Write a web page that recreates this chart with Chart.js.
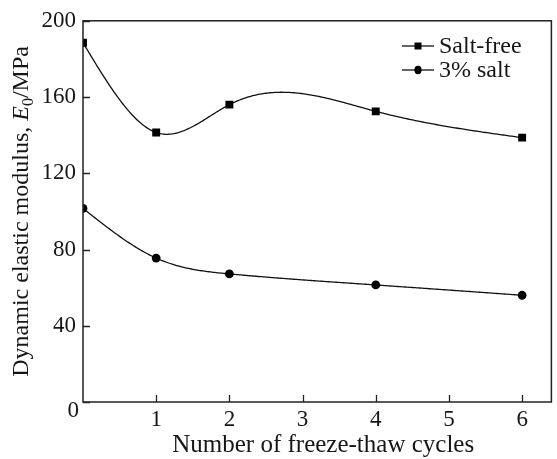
<!DOCTYPE html>
<html>
<head>
<meta charset="utf-8">
<script src="https://cdn.jsdelivr.net/npm/chart.js@4"></script>
<style>
    body { margin: 0; background: #fff; }
    canvas { display: block; }
    .preload { position: absolute; left: -999px; top: 0; font-family: "Liberation Serif"; }
</style>
</head>
<body>
<span class="preload">Salt-free 0123456789 <i>E</i></span>
<canvas id="chart" width="557" height="459"></canvas>
<script>
// Data
const cycles = [0, 1, 2, 4, 6];
const saltFree = [188.5, 141.4, 156.0, 152.5, 138.7];
const salt3 = [101.6, 75.5, 67.2, 61.4, 56.0];
const seriesNames = ["Salt-free", "3% salt"];
const xTicks = [1, 2, 3, 4, 5, 6];
const yTicks = [0, 40, 80, 120, 160, 200];
const xTitle = "Number of freeze-thaw cycles";

const FONT = "\"Liberation Serif\", \"DejaVu Serif\", serif";
const INK = "#161616";

// Natural cubic spline through the points (what the original plot uses)
function naturalSpline(xs, ys) {
    const n = xs.length;
    const h = [];
    for (let i = 0; i < n - 1; i++) h.push(xs[i + 1] - xs[i]);
    const M = new Array(n).fill(0);
    const a = [], b = [], c = [], d = [];
    for (let i = 1; i < n - 1; i++) {
        a.push(h[i - 1]);
        b.push(2 * (h[i - 1] + h[i]));
        c.push(h[i]);
        d.push(6 * ((ys[i + 1] - ys[i]) / h[i] - (ys[i] - ys[i - 1]) / h[i - 1]));
    }
    const m = b.length;
    for (let i = 1; i < m; i++) {
        const w = a[i] / b[i - 1];
        b[i] -= w * c[i - 1];
        d[i] -= w * d[i - 1];
    }
    if (m > 0) {
        M[m] = d[m - 1] / b[m - 1];
        for (let i = m - 2; i >= 0; i--) M[i + 1] = (d[i] - c[i] * M[i + 2]) / b[i];
    }
    return function (x) {
        let i = 0;
        while (i < n - 2 && x > xs[i + 1]) i++;
        const hi = h[i], A = xs[i + 1] - x, B = x - xs[i];
        return M[i] * A * A * A / (6 * hi) + M[i + 1] * B * B * B / (6 * hi)
            + (ys[i] / hi - M[i] * hi / 6) * A + (ys[i + 1] / hi - M[i + 1] * hi / 6) * B;
    };
}

const splinePlugin = {
    id: "spline",
    beforeDatasetsDraw(chart) {
        const { ctx, chartArea: ca, scales } = chart;
        ctx.save();
        ctx.beginPath();
        ctx.rect(ca.left, ca.top, ca.right - ca.left, ca.bottom - ca.top);
        ctx.clip();
        ctx.strokeStyle = "#111";
        ctx.lineWidth = 1.3;
        chart.data.datasets.forEach(ds => {
            const xs = ds.data.map(p => p.x);
            const ys = ds.data.map(p => p.y);
            const f = naturalSpline(xs, ys);
            const steps = 300;
            ctx.beginPath();
            for (let k = 0; k <= steps; k++) {
                const xv = xs[0] + (xs[xs.length - 1] - xs[0]) * k / steps;
                const px = scales.x.getPixelForValue(xv);
                const py = scales.y.getPixelForValue(f(xv));
                if (k === 0) ctx.moveTo(px, py); else ctx.lineTo(px, py);
            }
            ctx.stroke();
        });
        ctx.restore();
    }
};

// Frame, inward ticks, titles and legend
const decorPlugin = {
    id: "decor",
    afterDraw(chart) {
        const { ctx, chartArea: ca, scales } = chart;
        ctx.save();
        ctx.strokeStyle = "#222";
        ctx.lineWidth = 1.5;
        ctx.strokeRect(ca.left, ca.top, ca.right - ca.left, ca.bottom - ca.top);

        ctx.lineWidth = 1.3;
        ctx.beginPath();
        xTicks.forEach(v => {
            const px = Math.round(scales.x.getPixelForValue(v)) + 0.5;
            ctx.moveTo(px, ca.bottom);
            ctx.lineTo(px, ca.bottom - 7);
        });
        yTicks.forEach(v => {
            const py = Math.round(scales.y.getPixelForValue(v)) + 0.5;
            ctx.moveTo(ca.left, py);
            ctx.lineTo(ca.left + 7, py);
        });
        ctx.stroke();

        // shared origin label, sits a little below the corner
        ctx.fillStyle = INK;
        ctx.font = "23px " + FONT;
        ctx.textAlign = "right";
        ctx.textBaseline = "middle";
        ctx.fillText(String(yTicks[0]), ca.left - 4, ca.bottom + 9);

        // x title
        ctx.font = "25px " + FONT;
        ctx.textAlign = "center";
        ctx.textBaseline = "alphabetic";
        ctx.fillText(xTitle, (ca.left + ca.right) / 2 + 6, 452);

        // y title with italic E and subscript 0
        const parts = [
            { t: "Dynamic elastic modulus, ", f: "24px " + FONT, dy: 0 },
            { t: "E", f: "italic 24px " + FONT, dy: 0 },
            { t: "0", f: "16px " + FONT, dy: 5 },
            { t: "/MPa", f: "24px " + FONT, dy: 0 }
        ];
        let total = 0;
        parts.forEach(p => { ctx.font = p.f; p.w = ctx.measureText(p.t).width; total += p.w; });
        ctx.translate(28, (ca.top + ca.bottom) / 2);
        ctx.rotate(-Math.PI / 2);
        ctx.textAlign = "left";
        let cx = -total / 2;
        parts.forEach(p => {
            ctx.font = p.f;
            ctx.fillText(p.t, cx, p.dy);
            cx += p.w;
        });
        ctx.setTransform(1, 0, 0, 1, 0, 0);

        // legend
        const rows = [46, 70];
        chart.data.datasets.forEach((ds, i) => {
            const y = rows[i];
            ctx.strokeStyle = "#111";
            ctx.lineWidth = 1.3;
            ctx.beginPath();
            ctx.moveTo(402, y);
            ctx.lineTo(434, y);
            ctx.stroke();
            ctx.fillStyle = "#000";
            ctx.beginPath();
            if (ds.pointStyle === "rect") ctx.rect(418 - 3.5, y - 3.5, 7, 7);
            else ctx.ellipse(418, y, 3.6, 4.2, 0, 0, Math.PI * 2);
            ctx.fill();
            ctx.fillStyle = INK;
            ctx.font = "24px " + FONT;
            ctx.textAlign = "left";
            ctx.textBaseline = "middle";
            ctx.fillText(ds.label, 439, y + 1);
        });
        ctx.restore();
    }
};

const toPoints = vals => cycles.map((c, i) => ({ x: c, y: vals[i] }));

function draw() {
    new Chart(document.getElementById("chart"), {
        type: "line",
        data: {
            datasets: [
                {
                    label: seriesNames[0],
                    data: toPoints(saltFree),
                    showLine: false,
                    pointStyle: "rect",
                    pointRadius: 5.6,
                    pointHoverRadius: 5.6,
                    pointBackgroundColor: "#000",
                    pointBorderColor: "#000",
                    pointBorderWidth: 0,
                    clip: 0
                },
                {
                    label: seriesNames[1],
                    data: toPoints(salt3),
                    showLine: false,
                    pointStyle: "circle",
                    pointRadius: 4.4,
                    pointHoverRadius: 4.4,
                    pointBackgroundColor: "#000",
                    pointBorderColor: "#000",
                    pointBorderWidth: 0,
                    clip: 0
                }
            ]
        },
        options: {
            responsive: false,
            animation: false,
            devicePixelRatio: 1,
            layout: { padding: { top: 20, right: 1, left: 0, bottom: 0 } },
            plugins: {
                legend: { display: false },
                tooltip: { enabled: false }
            },
            scales: {
                x: {
                    type: "linear",
                    min: 0,
                    max: 6.4,
                    afterBuildTicks: s => { s.ticks = xTicks.map(v => ({ value: v })); },
                    afterFit: s => { s.height = 57; },
                    grid: { display: false, drawTicks: false },
                    border: { display: false },
                    ticks: {
                        color: INK,
                        padding: 4,
                        maxRotation: 0,
                        font: { family: FONT, size: 23 }
                    }
                },
                y: {
                    type: "linear",
                    min: 0,
                    max: 200,
                    afterBuildTicks: s => { s.ticks = yTicks.map(v => ({ value: v })); },
                    afterFit: s => { s.width = 83; },
                    grid: { display: false, drawTicks: false },
                    border: { display: false },
                    ticks: {
                        color: INK,
                        padding: 7,
                        font: { family: FONT, size: 23 },
                        // origin label is drawn by the decor plugin
                        callback: v => (v === yTicks[0] ? "" : v)
                    }
                }
            }
        },
        plugins: [splinePlugin, decorPlugin]
    });
}

Promise.all([
    document.fonts.load("24px \"Liberation Serif\""),
    document.fonts.load("italic 24px \"Liberation Serif\"")
]).then(draw, draw);
</script>
</body>
</html>
